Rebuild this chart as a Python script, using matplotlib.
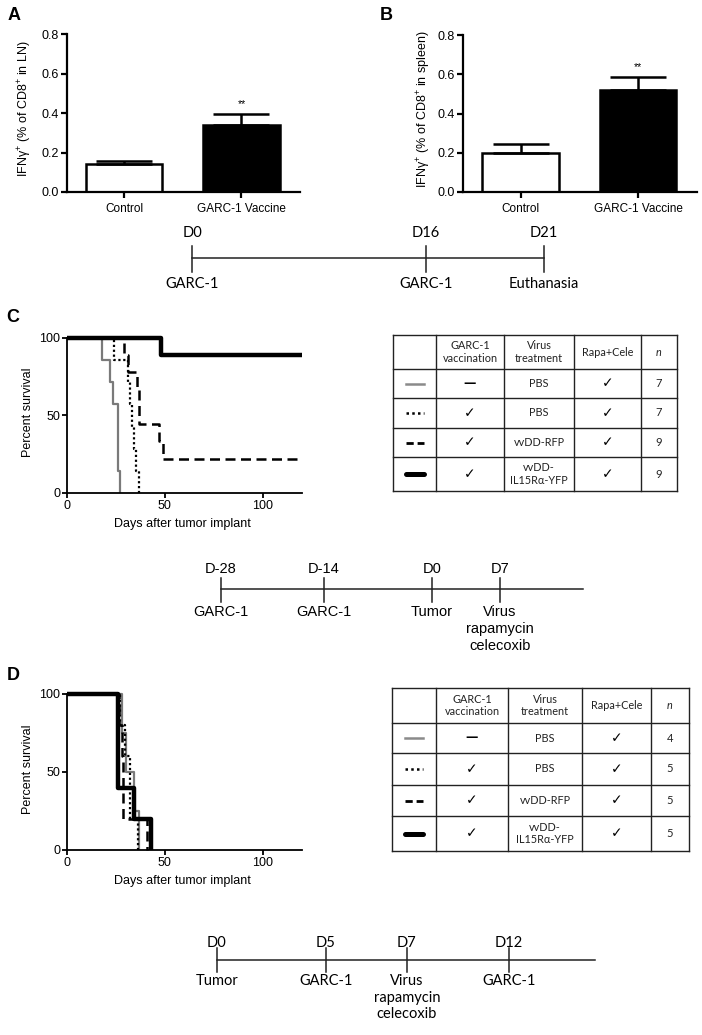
import numpy as np
import matplotlib
matplotlib.use('Agg')
import matplotlib.pyplot as plt

plt.rcParams['font.family'] = ['Liberation Sans', 'DejaVu Sans']
plt.rcParams['mathtext.fontset'] = 'custom'
plt.rcParams['mathtext.rm'] = 'Liberation Sans'
plt.rcParams['mathtext.it'] = 'Liberation Sans:italic'

# ---- data -------------------------------------------------------------
groups = ['Control', 'GARC-1 Vaccine']
ln_mean = [0.14, 0.34]          # panel A, % of CD8+ in LN
ln_sem = [0.016, 0.057]
spleen_mean = [0.197, 0.52]     # panel B, % of CD8+ in spleen
spleen_sem = [0.05, 0.066]

# panel C survival (days, percent)
c_gray_t = [0, 18, 22, 23.5, 26, 27]
c_gray_s = [100, 85.7, 71.4, 57.1, 14.3, 0]
c_dot_t = [0, 24, 31, 32, 33, 34, 35, 37]
c_dot_s = [100, 85.7, 71.4, 57.1, 42.9, 28.6, 14.3, 0]
c_dash_t = [0, 29, 31, 35.5, 37, 47, 49, 120]
c_dash_s = [100, 88.9, 77.8, 66.7, 44.4, 33.3, 22.2, 22.2]
c_thick_t = [0, 48, 120]
c_thick_s = [100, 88.9, 88.9]
c_n = ['7', '7', '9', '9']

# panel D survival
d_gray_t = [0, 28, 30, 34, 37]
d_gray_s = [100, 75, 50, 25, 0]
d_dot_t = [0, 27, 29.5, 32, 36]
d_dot_s = [100, 80, 60, 20, 0]
d_dash_t = [0, 26.5, 28, 28.7, 41]
d_dash_s = [100, 80, 60, 20, 0]
d_thick_t = [0, 26, 34.3, 43]
d_thick_s = [100, 40, 20, 0]
d_n = ['4', '5', '5', '5']

tbl_header = ['', 'GARC-1\nvaccination', 'Virus\ntreatment', 'Rapa+Cele', 'n']
tbl_garc = ['—', '✓', '✓', '✓']
tbl_virus = ['PBS', 'PBS', 'vvDD-RFP', 'vvDD-\nIL15Rα-YFP']
tbl_rapa = ['✓', '✓', '✓', '✓']

tlA_top = ['D0', 'D16', 'D21']
tlA_bottom = ['GARC-1', 'GARC-1', 'Euthanasia']
tlC_top = ['D-28', 'D-14', 'D0', 'D7']
tlC_bottom = ['GARC-1', 'GARC-1', 'Tumor', 'Virus\nrapamycin\ncelecoxib']
tlD_top = ['D0', 'D5', 'D7', 'D12']
tlD_bottom = ['Tumor', 'GARC-1', 'Virus\nrapamycin\ncelecoxib', 'GARC-1']

# ---- layout -----------------------------------------------------------
W, H = 702, 1035
fig = plt.figure(figsize=(W / 100, H / 100), dpi=100)

ax0 = fig.add_axes([0, 0, 1, 1])      # pixel canvas for schematics
ax0.set_xlim(0, W)
ax0.set_ylim(H, 0)
ax0.axis('off')

calibri = ['Lato', 'DejaVu Sans']


def add_ax(l, t, r, b):
    return fig.add_axes([l / W, 1 - b / H, (r - l) / W, (b - t) / H])


def bar_panel(box, means, sems, ylabel, ylab_x):
    ax = add_ax(*box)
    x = np.arange(len(groups))
    ax.bar(x, means, width=0.65, color=['white', 'black'], edgecolor='black', linewidth=1.8, zorder=2)
    ax.errorbar(x, means, yerr=[np.zeros(len(means)), sems], fmt='none', ecolor='black',
                elinewidth=1.8, capsize=20, capthick=1.8, zorder=3)
    ax.text(x[1], means[1] + sems[1] + 0.025, '**', ha='center', va='bottom', fontsize=7.5)
    ax.set_xlim(-0.49, 1.5)
    ax.set_ylim(0, 0.8)
    ax.set_yticks([0, 0.2, 0.4, 0.6, 0.8])
    ax.set_yticklabels(['0.0', '0.2', '0.4', '0.6', '0.8'])
    ax.set_xticks(x)
    ax.set_xticklabels(groups)
    for s in ['top', 'right']:
        ax.spines[s].set_visible(False)
    for s in ['left', 'bottom']:
        ax.spines[s].set_linewidth(1.6)
    ax.tick_params(width=1.6, length=4, labelsize=9, pad=2)
    ax.tick_params(axis='x', labelsize=8.5, pad=4)
    ax0.text(ylab_x, (box[1] + box[3]) / 2 - 4, ylabel, rotation=90, ha='center', va='center', fontsize=9)
    return ax


bar_panel((67, 34, 300, 192), ln_mean, ln_sem, r'IFNγ$^{+}$ (% of CD8$^{+}$ in LN)', 25)
bar_panel((463, 35, 697, 192), spleen_mean, spleen_sem, r'IFNγ$^{+}$ (% of CD8$^{+}$ in spleen)', 424)

styles = [dict(color='#7a7a7a', lw=1.6),
          dict(color='black', lw=1.6, ls=(0, (1, 1.2))),
          dict(color='black', lw=1.8, ls=(0, (4, 2.2))),
          dict(color='black', lw=3.2)]

# glyphs in the table's first column
key_styles = [dict(color='#8a8a8a', lw=1.8),
              dict(color='black', lw=1.8, ls=(0, (1, 1.3))),
              dict(color='black', lw=2.0, ls=(0, (2.6, 1.4))),
              dict(color='black', lw=3.6, solid_capstyle='round')]


def surv_panel(box, curves):
    ax = add_ax(*box)
    for (t, s), st in zip(curves, styles):
        ax.step(t, s, where='post', clip_on=False, solid_capstyle='butt', **st)
    ax.set_xlim(0, 120)
    ax.set_ylim(0, 100)
    ax.set_xticks([0, 50, 100])
    ax.set_yticks([0, 50, 100])
    for s in ['top', 'right']:
        ax.spines[s].set_visible(False)
    for s in ['left', 'bottom']:
        ax.spines[s].set_linewidth(1.3)
    ax.tick_params(width=1.3, length=3.5, labelsize=9, pad=1.5)
    ax0.text(28, (box[1] + box[3]) / 2 - 3, 'Percent survival', rotation=90, ha='center', va='center', fontsize=9)
    ax0.text((box[0] + box[2]) / 2 - 2, box[3] + 31, 'Days after tumor implant', ha='center', va='center', fontsize=9)
    return ax


surv_panel((67, 338, 302, 493),
           [(c_gray_t, c_gray_s), (c_dot_t, c_dot_s), (c_dash_t, c_dash_s), (c_thick_t, c_thick_s)])
surv_panel((67, 694, 302, 850),
           [(d_gray_t, d_gray_s), (d_dot_t, d_dot_s), (d_dash_t, d_dash_s), (d_thick_t, d_thick_s)])


def table(cols, rows, n_vals):
    for xc in cols:
        ax0.plot([xc, xc], [rows[0], rows[-1]], color='#222222', lw=1.0)
    for yr in rows:
        ax0.plot([cols[0], cols[-1]], [yr, yr], color='#222222', lw=1.0)
    cx = [(cols[i] + cols[i + 1]) / 2 for i in range(len(cols) - 1)]
    cy = [(rows[i] + rows[i + 1]) / 2 for i in range(len(rows) - 1)]
    for j, h in enumerate(tbl_header):
        ax0.text(cx[j], cy[0], h, ha='center', va='center', fontsize=7.8, family=calibri,
                 style='italic' if h == 'n' else 'normal', linespacing=1.2, color='#222222')
    for i in range(4):
        y = cy[i + 1]
        half = 9
        ax0.plot([cx[0] - half, cx[0] + half], [y, y], **key_styles[i])
        if tbl_garc[i] == '—':
            ax0.text(cx[1], y, tbl_garc[i], ha='center', va='center', fontsize=9, weight='bold',
                     family=['DejaVu Sans'])
        else:
            ax0.text(cx[1], y, tbl_garc[i], ha='center', va='center', fontsize=10, family=['DejaVu Sans'])
        ax0.text(cx[2], y, tbl_virus[i], ha='center', va='center', fontsize=7.8, family=calibri,
                 linespacing=1.2, color='#222222')
        ax0.text(cx[3], y, tbl_rapa[i], ha='center', va='center', fontsize=10, family=['DejaVu Sans'])
        ax0.text(cx[4], y, n_vals[i], ha='center', va='center', fontsize=8, family=calibri, color='#222222')


table([393, 436, 504, 574, 641, 677], [335, 369, 398, 428, 457, 491], c_n)
table([392, 436, 508, 582, 651, 689], [688, 723, 753, 785, 816, 851], d_n)


def timeline(y, stops, x_end, tops, bottoms, fam, up, down, tick_up, tick_dn):
    ax0.plot([stops[0], x_end], [y, y], color='#222222', lw=1.1)
    for xs, tl, bl in zip(stops, tops, bottoms):
        ax0.plot([xs, xs], [y - tick_up, y + tick_dn], color='#222222', lw=1.1)
        ax0.text(xs, y - up, tl, ha='center', va='bottom', fontsize=10.5, family=fam)
        ax0.text(xs, y + down, bl, ha='center', va='top', fontsize=10.5, family=fam, linespacing=1.25)


timeline(258, [192, 426, 544], 544, tlA_top, tlA_bottom, calibri, 18, 19, 12, 14)
timeline(589, [221, 324, 432, 500], 583, tlC_top, tlC_bottom, ['Liberation Sans'], 13, 16, 11, 13)
timeline(960, [217, 326, 407, 509], 595, tlD_top, tlD_bottom, calibri, 10, 14, 12, 12)

for lab, (px, py) in zip(['A', 'B', 'C', 'D'], [(14, 15), (386, 15), (13, 317), (13, 676)]):
    ax0.text(px, py, lab, ha='center', va='center', fontsize=13, weight='bold')

fig.savefig('out.png', dpi=100)
